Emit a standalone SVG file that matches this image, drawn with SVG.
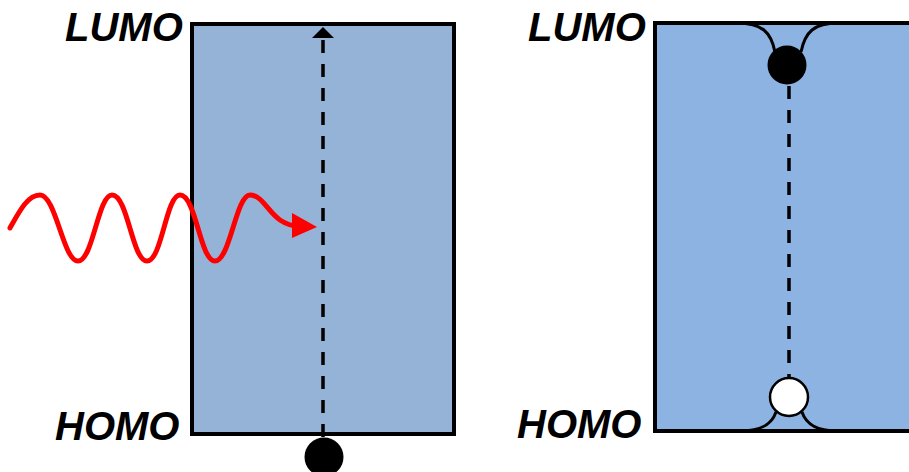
<svg xmlns="http://www.w3.org/2000/svg" width="909" height="472" viewBox="0 0 909 472">
<style>
.lbl{font-family:"Liberation Sans",Arial,sans-serif;font-weight:bold;font-style:italic;font-size:40px;fill:#000}
.box{stroke:#000;stroke-width:4}
.dash{stroke:#000;stroke-width:3.5;stroke-dasharray:13 11;fill:none}
.thin{stroke:#000;stroke-width:3;fill:none}
</style>
<rect width="909" height="472" fill="#fff"/>
<g id="left-panel">
<rect class="box" x="192" y="24" width="262" height="410" fill="#95B3D7"/>
<text class="lbl" x="65" y="41">LUMO</text>
<text class="lbl" x="55" y="440">HOMO</text>
</g>
<g id="right-panel">
<rect class="box" x="655" y="23" width="300" height="408" fill="#8DB3E2"/>
<text class="lbl" x="528" y="41">LUMO</text>
<text class="lbl" x="517" y="438">HOMO</text>
</g>
<g id="connectors">
<line class="dash" x1="323" y1="40" x2="323" y2="440"/>
<polygon points="323,27 312,38 334,38" fill="#000"/>
<path d="M10,228 C20,210 28,195 40,195 C56,195 63,261 78,261 C93,261 98,195 112,195 C128,195 132,261 147,261 C162,261 166,195 180,195 C196,195 200,261 215,261 C230,261 236,195 250,195 C262,195 268,212 280,220 C286,224 292,226 298,226" stroke="#FF0000" stroke-width="5" fill="none" stroke-linecap="round"/>
<polygon points="292,213 317,227 292,238" fill="#FF0000"/>
<line class="dash" x1="789" y1="86" x2="789" y2="378"/>
<path class="thin" d="M737,23 C762,23 771,32 775,52"/>
<path class="thin" d="M801,52 C805,32 814,23 838,23"/>
<path class="thin" d="M776,412 C772,424 762,431 740,431"/>
<path class="thin" d="M802,412 C806,424 816,431 838,431"/>
</g>
<g id="electron">
<circle cx="324" cy="457" r="19.5" fill="#000"/>
</g>
<g id="excited-electron">
<circle cx="787" cy="65" r="19.5" fill="#000"/>
</g>
<g id="hole">
<circle cx="789" cy="397" r="19" fill="#fff" stroke="#000" stroke-width="2.5"/>
</g>
</svg>
